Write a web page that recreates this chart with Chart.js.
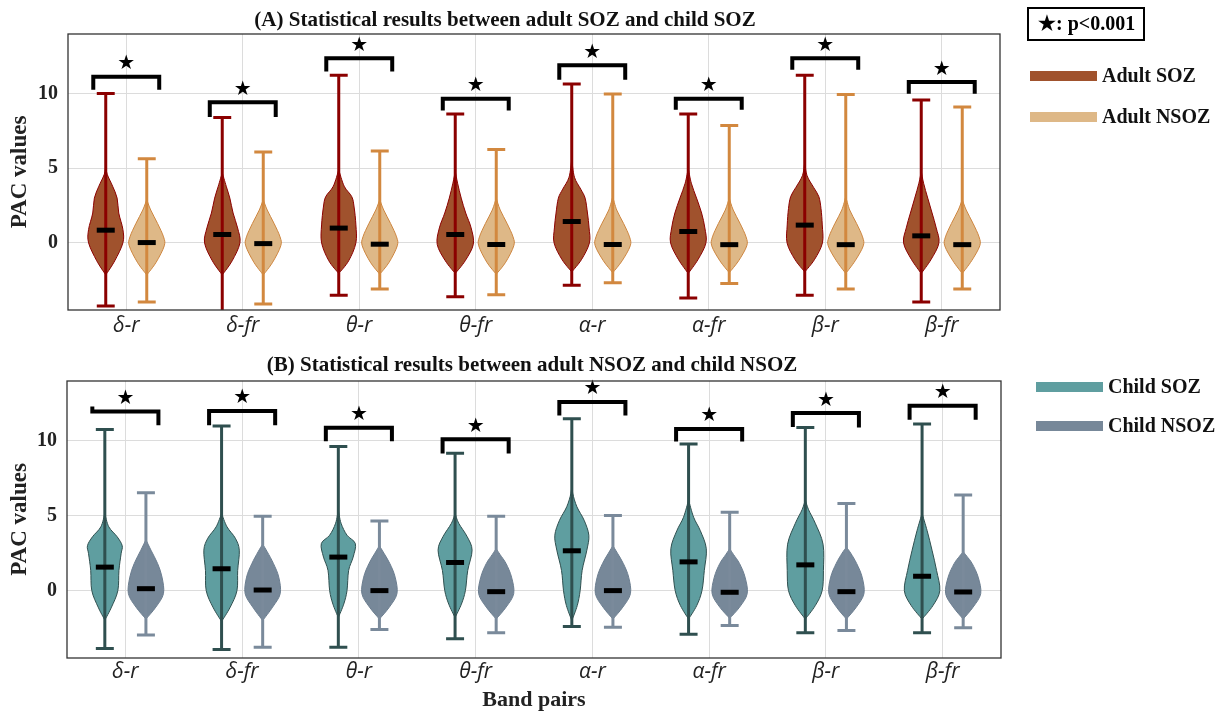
<!DOCTYPE html>
<html>
<head>
<meta charset="utf-8">
<script src="https://cdn.jsdelivr.net/npm/chart.js@4.4.1/dist/chart.umd.min.js"></script>
<style>
  body { margin: 0; background: #fff; }
  .panel { position: absolute; left: 0; width: 1228px; }
</style>
</head>
<body>
<div class="panel" style="top:0;height:350px"><canvas id="chartA" width="1228" height="350"></canvas></div>
<div class="panel" style="top:350px;height:361px"><canvas id="chartB" width="1228" height="361"></canvas></div>
<script>
// Band pairs on the x axis
const categories = ["δ-r", "δ-fr", "θ-r", "θ-fr", "α-r", "α-fr", "β-r", "β-fr"];
const yTicks = [0, 5, 10];

// Adult SOZ
const adultSozMin = [-4.23, -4.8, -3.51, -3.62, -2.84, -3.69, -3.51, -3.96];
const adultSozMax = [10.02, 8.41, 11.23, 8.64, 10.65, 8.64, 11.23, 9.57];
const adultSozMedian = [0.85, 0.56, 0.99, 0.56, 1.43, 0.76, 1.19, 0.47];

// Adult NSOZ
const adultNsozMin = [-3.97, -4.1, -3.09, -3.47, -2.68, -2.73, -3.09, -3.09];
const adultNsozMax = [5.64, 6.09, 6.15, 6.26, 9.98, 7.87, 9.95, 9.1];
const adultNsozMedian = [0.02, -0.05, -0.09, -0.11, -0.11, -0.12, -0.12, -0.12];

// Child SOZ
const childSozMin = [-3.87, -3.94, -3.78, -3.22, -2.39, -2.91, -2.82, -2.82];
const childSozMax = [10.76, 11.0, 9.62, 9.17, 11.48, 9.8, 10.89, 11.12];
const childSozMedian = [1.57, 1.46, 2.24, 1.88, 2.66, 1.92, 1.72, 0.96];

// Child NSOZ
const childNsozMin = [-2.97, -3.78, -2.6, -2.82, -2.44, -2.33, -2.66, -2.48];
const childNsozMax = [6.53, 4.97, 4.65, 4.97, 5.01, 5.23, 5.82, 6.38];
const childNsozMedian = [0.13, 0.04, 0.0, -0.07, 0.0, -0.11, -0.07, -0.09];

// density outlines: [PAC value, relative half width]
const adultSozShape = [
  [[-2.15, 0], [-1.2, 0.5], [0, 0.95], [0.9, 0.95], [2.0, 0.72], [3.0, 0.63], [3.8, 0.38], [4.6, 0.08], [5.2, 0]],
  [[-2.15, 0], [-1.2, 0.55], [0, 0.98], [1, 0.85], [2, 0.6], [3, 0.42], [3.8, 0.22], [4.7, 0]],
  [[-2.05, 0], [-1.2, 0.55], [0, 0.95], [1.2, 0.95], [2.4, 0.85], [3.1, 0.72], [3.8, 0.3], [4.9, 0]],
  [[-2.05, 0], [-1.2, 0.55], [-0.1, 1.0], [1, 0.88], [2, 0.58], [3, 0.33], [4, 0.13], [4.8, 0]],
  [[-1.95, 0], [-1.1, 0.55], [0, 0.98], [1, 0.96], [2, 0.87], [3, 0.74], [3.6, 0.5], [4.4, 0.15], [5.6, 0]],
  [[-2.05, 0], [-1.1, 0.55], [0, 0.98], [1, 0.92], [2, 0.74], [3, 0.46], [4, 0.17], [5.0, 0]],
  [[-1.95, 0], [-1.1, 0.55], [0, 0.98], [1.2, 0.97], [2.3, 0.9], [3.1, 0.78], [3.7, 0.5], [4.5, 0.13], [5.4, 0]],
  [[-2.05, 0], [-1.1, 0.55], [0, 0.98], [1, 0.83], [2, 0.6], [3, 0.36], [4, 0.13], [4.8, 0]]
];
const adultNsozShape = [
  [[-2.15, 0], [-1.3, 0.52], [-0.2, 0.97], [0.4, 0.93], [1.3, 0.6], [2.2, 0.22], [2.9, 0]],
  [[-2.15, 0], [-1.3, 0.52], [-0.2, 0.97], [0.4, 0.93], [1.3, 0.6], [2.2, 0.22], [2.9, 0]],
  [[-2.1, 0], [-1.3, 0.52], [-0.2, 0.97], [0.4, 0.93], [1.3, 0.6], [2.2, 0.22], [2.9, 0]],
  [[-2.1, 0], [-1.3, 0.52], [-0.2, 0.97], [0.4, 0.93], [1.3, 0.6], [2.2, 0.22], [3.0, 0]],
  [[-2.0, 0], [-1.2, 0.52], [-0.2, 0.97], [0.4, 0.93], [1.3, 0.6], [2.2, 0.22], [3.1, 0]],
  [[-2.0, 0], [-1.2, 0.52], [-0.2, 0.97], [0.4, 0.93], [1.3, 0.6], [2.2, 0.22], [3.0, 0]],
  [[-2.05, 0], [-1.2, 0.52], [-0.2, 0.97], [0.4, 0.93], [1.3, 0.6], [2.2, 0.22], [3.1, 0]],
  [[-2.05, 0], [-1.2, 0.52], [-0.2, 0.97], [0.4, 0.93], [1.3, 0.6], [2.2, 0.22], [2.9, 0]]
];
const childSozShape = [
  [[-1.97, 0], [-1.1, 0.37], [0, 0.72], [1.35, 0.78], [2.47, 0.9], [3.0, 0.96], [3.6, 0.68], [4.26, 0.22], [5.15, 0]],
  [[-2.06, 0], [-1.1, 0.48], [0, 0.85], [1.35, 0.89], [2.7, 0.98], [3.5, 0.76], [4.26, 0.3], [5.15, 0]],
  [[-1.8, 0], [-0.9, 0.3], [0, 0.48], [1.35, 0.57], [2.24, 0.82], [3.14, 0.94], [3.7, 0.48], [4.5, 0.15], [5.4, 0]],
  [[-1.8, 0], [-0.9, 0.35], [0, 0.57], [1.35, 0.7], [2.7, 0.94], [3.6, 0.67], [4.5, 0.2], [5.15, 0]],
  [[-2.0, 0], [-1.0, 0.3], [0, 0.46], [1.35, 0.57], [2.7, 0.83], [3.7, 0.94], [4.7, 0.68], [5.6, 0.28], [6.5, 0.05], [7.2, 0]],
  [[-1.9, 0], [-1.0, 0.45], [0, 0.74], [1.35, 0.87], [2.8, 0.98], [4.0, 0.65], [4.9, 0.28], [6.05, 0]],
  [[-1.9, 0], [-1.0, 0.55], [0, 0.93], [1.35, 1.0], [3.1, 0.98], [4.5, 0.55], [5.4, 0.18], [6.05, 0]],
  [[-1.9, 0], [-1.0, 0.6], [0, 0.98], [1.35, 0.8], [2.7, 0.55], [4.0, 0.28], [5.15, 0]]
];
const childNsozShape = [
  [[-1.9, 0], [-1.1, 0.55], [-0.2, 0.97], [0.9, 0.89], [1.8, 0.65], [2.7, 0.28], [3.4, 0]],
  [[-2.0, 0], [-1.1, 0.55], [-0.2, 0.97], [0.9, 0.89], [1.8, 0.6], [2.6, 0.25], [3.1, 0]],
  [[-1.9, 0], [-1.1, 0.55], [-0.2, 0.97], [0.9, 0.87], [1.8, 0.58], [2.5, 0.25], [3.0, 0]],
  [[-1.9, 0], [-1.1, 0.55], [-0.2, 0.97], [0.9, 0.85], [1.8, 0.55], [2.4, 0.22], [2.8, 0]],
  [[-1.9, 0], [-1.1, 0.55], [-0.2, 0.97], [0.9, 0.87], [1.8, 0.58], [2.5, 0.25], [3.0, 0]],
  [[-1.85, 0], [-1.1, 0.55], [-0.2, 0.97], [0.9, 0.85], [1.8, 0.55], [2.4, 0.22], [2.8, 0]],
  [[-1.9, 0], [-1.1, 0.55], [-0.2, 0.97], [0.9, 0.87], [1.8, 0.57], [2.5, 0.24], [2.9, 0]],
  [[-1.9, 0], [-1.1, 0.55], [-0.2, 0.97], [0.9, 0.83], [1.8, 0.5], [2.3, 0.2], [2.6, 0]]
];

// significance brackets: bar height, left leg end, right leg end
const bracketTopA = [11.14, 9.42, 12.37, 9.66, 11.9, 9.66, 12.37, 10.78];
const bracketLeftA = [10.27, 8.44, 11.48, 8.88, 10.94, 8.93, 11.6, 10.0];
const bracketRightA = [10.27, 8.44, 11.48, 8.88, 10.94, 8.93, 11.6, 10.0];
const bracketTopB = [11.97, 12.0, 10.87, 10.11, 12.6, 10.8, 11.86, 12.35];
const bracketLeftB = [12.3, 11.05, 9.98, 9.15, 11.7, 9.96, 10.92, 11.41];
const bracketRightB = [11.05, 11.05, 9.98, 9.15, 11.7, 9.96, 10.9, 11.41];

const SHIFT = 0.176;   // violin offset from the band centre (x units)
const HALF_W = 0.155;  // widest violin half width (x units)
const CAP = 0.077;     // whisker cap half length (x units)
const SERIF = "'Liberation Serif', 'Times New Roman', serif";

Chart.defaults.font.family = SERIF;

function violinDataset(label, side, medians, mins, maxs, shapes, fill, edge, line) {
  return {
    label: label,
    data: medians.map((m, i) => ({ x: i + side * SHIFT, y: m })),
    pointStyle: "line",
    pointRadius: 9,
    pointHoverRadius: 9,
    pointBorderWidth: 5,
    pointBorderColor: "#000",
    pointBackgroundColor: "#000",
    showLine: false,
    violin: { mins: mins, maxs: maxs, shapes: shapes, fill: fill, edge: edge, line: line }
  };
}

// Catmull-Rom through the outline points
function smoothTo(ctx, pts) {
  for (let i = 0; i < pts.length - 1; i++) {
    const p0 = pts[i - 1] || pts[i], p1 = pts[i], p2 = pts[i + 1], p3 = pts[i + 2] || pts[i + 1];
    ctx.bezierCurveTo(
      p1[0] + (p2[0] - p0[0]) / 6, p1[1] + (p2[1] - p0[1]) / 6,
      p2[0] - (p3[0] - p1[0]) / 6, p2[1] - (p3[1] - p1[1]) / 6,
      p2[0], p2[1]);
  }
}

const violinPlugin = {
  id: "violins",
  beforeDatasetsDraw(chart) {
    const { ctx, chartArea, scales: { x, y } } = chart;
    const unit = x.getPixelForValue(1) - x.getPixelForValue(0);
    ctx.save();
    ctx.beginPath();
    ctx.rect(chartArea.left, chartArea.top, chartArea.width, chartArea.height);
    ctx.clip();
    chart.data.datasets.forEach(ds => {
      const v = ds.violin;
      ds.data.forEach((pt, i) => {
        const cx = x.getPixelForValue(pt.x);
        const right = v.shapes[i].map(([val, w]) => [cx + w * HALF_W * unit, y.getPixelForValue(val)]);
        const left = right.slice().reverse().map(([px, py]) => [2 * cx - px, py]);
        ctx.beginPath();
        ctx.moveTo(right[0][0], right[0][1]);
        smoothTo(ctx, right);
        smoothTo(ctx, left);
        ctx.closePath();
        ctx.fillStyle = v.fill;
        ctx.fill();
        ctx.lineWidth = 1;
        ctx.strokeStyle = v.edge;
        ctx.stroke();

        const top = y.getPixelForValue(v.maxs[i]);
        const bot = y.getPixelForValue(v.mins[i]);
        const cap = CAP * unit;
        ctx.beginPath();
        ctx.moveTo(cx, top); ctx.lineTo(cx, bot);
        ctx.moveTo(cx - cap, top); ctx.lineTo(cx + cap, top);
        ctx.moveTo(cx - cap, bot); ctx.lineTo(cx + cap, bot);
        ctx.lineWidth = 3;
        ctx.lineCap = "butt";
        ctx.strokeStyle = v.line;
        ctx.stroke();
      });
    });
    ctx.restore();
  }
};

const extrasPlugin = {
  id: "extras",
  afterDraw(chart, args, opts) {
    const { ctx, chartArea, scales: { x, y } } = chart;
    ctx.save();
    // brackets with stars
    ctx.lineWidth = 4;
    ctx.strokeStyle = "#000";
    ctx.fillStyle = "#000";
    ctx.lineJoin = "miter";
    ctx.lineCap = "butt";
    ctx.font = "20px 'DejaVu Sans'";
    ctx.textAlign = "center";
    ctx.textBaseline = "middle";
    opts.top.forEach((t, i) => {
      const xl = x.getPixelForValue(i - 0.283), xr = x.getPixelForValue(i + 0.283);
      ctx.beginPath();
      ctx.moveTo(xl, y.getPixelForValue(opts.left[i]));
      ctx.lineTo(xl, y.getPixelForValue(t));
      ctx.lineTo(xr, y.getPixelForValue(t));
      ctx.lineTo(xr, y.getPixelForValue(opts.right[i]));
      ctx.stroke();
      ctx.fillText("★", x.getPixelForValue(i), y.getPixelForValue(t + 0.85));
    });

    // plot frame
    ctx.lineWidth = 1.3;
    ctx.strokeStyle = "#333";
    ctx.strokeRect(chartArea.left, chartArea.top, chartArea.width, chartArea.height);

    // panel heading
    ctx.fillStyle = "#111";
    ctx.font = "bold 21px " + SERIF;
    ctx.fillText(opts.title, opts.titleX, opts.titleY);

    // legend
    ctx.textAlign = "left";
    ctx.font = "bold 20px " + SERIF;
    opts.legend.forEach(item => {
      ctx.fillStyle = item.color;
      ctx.fillRect(item.x, item.y - 5, 67, 10);
      ctx.fillStyle = "#111";
      ctx.fillText(item.label, item.x + 72, item.y + 1);
    });

    if (opts.starBox) {
      ctx.lineWidth = 2;
      ctx.strokeStyle = "#000";
      ctx.strokeRect(1028, 8, 116, 32);
      ctx.fillStyle = "#000";
      ctx.fillText("★: p<0.001", 1038, 25);
    }
    ctx.restore();
  }
};

function panelOptions(cfg) {
  return {
    responsive: false,
    animation: false,
    events: [],
    layout: { padding: { top: cfg.padTop, right: cfg.padRight, left: 0, bottom: 0 } },
    scales: {
      x: {
        type: "linear",
        min: -0.5,
        max: 7.5,
        afterBuildTicks: s => { s.ticks = categories.map((c, i) => ({ value: i })); },
        afterFit: s => { s.height = cfg.xHeight; },
        grid: { color: "#dcdcdc", drawTicks: false },
        border: { display: false },
        ticks: {
          callback: v => categories[v],
          padding: cfg.xPad,
          maxRotation: 0,
          autoSkip: false,
          color: "#222",
          font: { family: "'Open Sans', sans-serif", style: "italic", size: 21 }
        },
        title: cfg.xTitle
      },
      y: {
        min: -4.5,
        max: 14,
        afterBuildTicks: s => { s.ticks = yTicks.map(v => ({ value: v })); },
        afterFit: s => { s.width = cfg.yWidth; },
        grid: { color: "#dcdcdc", drawTicks: false },
        border: { display: false },
        ticks: { padding: 10, color: "#222", font: { family: SERIF, weight: "bold", size: 20 } },
        title: {
          display: true,
          text: "PAC values",
          color: "#222",
          font: { family: SERIF, weight: "bold", size: 23 },
          padding: { top: 6, bottom: 0 }
        }
      }
    },
    plugins: {
      legend: { display: false },
      tooltip: { enabled: false },
      extras: cfg.extras
    }
  };
}

new Chart(document.getElementById("chartA"), {
  type: "scatter",
  data: {
    datasets: [
      violinDataset("Adult SOZ", -1, adultSozMedian, adultSozMin, adultSozMax, adultSozShape, "#a0522d", "#8b0000", "#8b0000"),
      violinDataset("Adult NSOZ", 1, adultNsozMedian, adultNsozMin, adultNsozMax, adultNsozShape, "#deb887", "#cd853f", "#d2883f")
    ]
  },
  options: panelOptions({
    padTop: 34, padRight: 228, yWidth: 68, xHeight: 40, xPad: 3,
    xTitle: { display: false },
    extras: {
      top: bracketTopA, left: bracketLeftA, right: bracketRightA,
      title: "(A) Statistical results between adult SOZ and child SOZ", titleX: 505, titleY: 21,
      legend: [
        { label: "Adult SOZ", color: "#a0522d", x: 1030, y: 76 },
        { label: "Adult NSOZ", color: "#deb887", x: 1030, y: 117 }
      ],
      starBox: true
    }
  }),
  plugins: [violinPlugin, extrasPlugin]
});

new Chart(document.getElementById("chartB"), {
  type: "scatter",
  data: {
    datasets: [
      violinDataset("Child SOZ", -1, childSozMedian, childSozMin, childSozMax, childSozShape, "#5f9ea0", "#2f4f4f", "#2f4f4f"),
      violinDataset("Child NSOZ", 1, childNsozMedian, childNsozMin, childNsozMax, childNsozShape, "#778899", "#6b7d8f", "#7a8a9b")
    ]
  },
  options: panelOptions({
    padTop: 31, padRight: 227, yWidth: 67, xHeight: 53, xPad: 1,
    xTitle: {
      display: true,
      text: "Band pairs",
      color: "#222",
      font: { family: SERIF, weight: "bold", size: 22, lineHeight: 1 },
      padding: { top: 0, bottom: 0 }
    },
    extras: {
      top: bracketTopB, left: bracketLeftB, right: bracketRightB,
      title: "(B) Statistical results between adult NSOZ and child NSOZ", titleX: 532, titleY: 16,
      legend: [
        { label: "Child SOZ", color: "#5f9ea0", x: 1036, y: 37 },
        { label: "Child NSOZ", color: "#778899", x: 1036, y: 76 }
      ],
      starBox: false
    }
  }),
  plugins: [violinPlugin, extrasPlugin]
});
</script>
</body>
</html>
